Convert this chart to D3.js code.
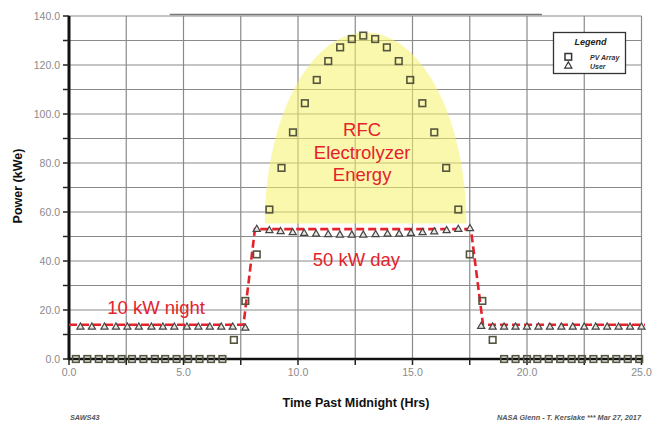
<!DOCTYPE html>
<html><head><meta charset="utf-8">
<script src="https://cdn.jsdelivr.net/npm/d3@7"></script>
<style>body{margin:0;background:#fff;}svg{display:block;font-family:"Liberation Sans",Arial,sans-serif;}</style>
</head><body>
<svg id="c" width="653" height="422"></svg>
<script>
// ---- data ----
const xTicks = [0, 5, 10, 15, 20, 25];
const yTicks = [0, 20, 40, 60, 80, 100, 120, 140];
const pvTime = [0.3,0.8,1.3,1.8,2.3,2.75,3.25,3.75,4.2,4.7,5.2,5.7,6.2,6.7,
  7.2,7.7,
  8.2,8.75,9.28,9.78,10.3,10.82,11.32,11.84,12.35,12.85,13.37,13.88,14.4,14.9,15.43,15.95,16.47,17.0,17.5,
  18.05,18.5,
  19.0,19.5,20.0,20.45,20.95,21.45,21.95,22.4,22.9,23.4,23.9,24.4,24.9];
const pvPower = [0,0,0,0,0,0,0,0,0,0,0,0,0,0,
  7.8,23.7,
  42.7,61.0,78.0,92.5,104.4,113.9,121.6,127.2,130.6,132.0,130.6,127.2,121.6,113.9,104.4,92.5,78.0,61.0,42.7,
  23.7,7.8,
  0,0,0,0,0,0,0,0,0,0,0,0,0];
const userTime = [0.5,1.0,1.55,2.05,2.55,3.05,3.6,4.1,4.6,5.15,5.65,6.15,6.65,7.15,7.7,
  8.2,8.75,9.24,9.77,10.27,10.79,11.32,11.83,12.35,12.85,13.39,13.91,14.42,14.93,15.44,15.95,16.49,17.0,17.51,
  18.0,18.5,19.0,19.5,20.0,20.5,21.0,21.5,22.0,22.5,23.0,23.5,24.0,24.5,25.0];
const userPower = [13,13,13,13,13,13,13,13,13,13,13,13,13,13,12.6,
  52.9,52.4,52.0,51.6,51.3,51.0,50.8,50.6,50.6,50.6,50.8,51.0,51.0,51.3,51.6,51.9,52.4,52.9,53.2,
  13.3,13,13,13,13,13,13,13,13,13,13,13,13,13,13];
const loadTime = [0, 7.62, 8.12, 17.55, 18.08, 25.15];
const loadPower = [14, 14, 53, 53, 14, 14];
// electrolyzer energy region (half ellipse): centre time, base power, half-width (hrs), height (kW)
const rfcCenter = [12.95, 55.3];
const rfcRadius = [4.4, 78];

// ---- layout ----
const svg = d3.select("#c");
const x = d3.scaleLinear().domain([0, 25]).range([69, 641.5]);
const y = d3.scaleLinear().domain([0, 140]).range([359, 16]);

// grid
const g = svg.append("g");
g.selectAll(".vg").data(d3.range(0, 25.01, 2.5)).enter().append("line")
  .attr("x1", d => x(d)).attr("x2", d => x(d)).attr("y1", y(0)).attr("y2", y(140))
  .attr("stroke", "#8a8a8a").attr("stroke-width", 1.2);
g.selectAll(".hg").data(d3.range(10, 140.01, 10)).enter().append("line")
  .attr("x1", x(0)).attr("x2", x(25)).attr("y1", d => y(d)).attr("y2", d => y(d))
  .attr("stroke", "#8a8a8a").attr("stroke-width", 1.2);
// darker top segment
g.append("line").attr("x1", x(4.4)).attr("x2", x(20.65)).attr("y1", y(140.6)).attr("y2", y(140.6))
  .attr("stroke", "#777").attr("stroke-width", 1.6);

// yellow region
const ell = d3.range(0, 181, 3).map(a => {
  const r = a * Math.PI / 180;
  return [rfcCenter[0] - rfcRadius[0] * Math.cos(r), rfcCenter[1] + rfcRadius[1] * Math.sin(r)];
});
svg.append("path")
  .attr("d", d3.line().x(d => x(d[0])).y(d => y(d[1]))(ell) + "Z")
  .attr("fill", "#f6f36a").attr("opacity", 0.55);

// axes
const ax = svg.append("g");
ax.append("line").attr("x1", x(0)).attr("x2", x(0)).attr("y1", y(140)).attr("y2", y(0) + 1)
  .attr("stroke", "#111").attr("stroke-width", 3);
ax.append("line").attr("x1", x(0) - 1).attr("x2", x(25) + 1).attr("y1", y(0)).attr("y2", y(0))
  .attr("stroke", "#111").attr("stroke-width", 2.6);
ax.selectAll(".yt").data(d3.range(0, 140.01, 10)).enter().append("line")
  .attr("x1", x(0) - 6).attr("x2", x(0)).attr("y1", d => y(d)).attr("y2", d => y(d))
  .attr("stroke", "#222").attr("stroke-width", 1.5);
ax.selectAll(".xt").data(d3.range(0, 25.01, 2.5)).enter().append("line")
  .attr("x1", d => x(d)).attr("x2", d => x(d)).attr("y1", y(0)).attr("y2", y(0) + 6)
  .attr("stroke", "#222").attr("stroke-width", 1.5);
ax.selectAll(".yl").data(yTicks).enter().append("text")
  .attr("x", x(0) - 9).attr("y", d => y(d)).attr("dy", "0.35em")
  .attr("text-anchor", "end").attr("font-size", 10.5).attr("fill", "#8a8a8a")
  .text(d => d.toFixed(1));
ax.selectAll(".xl").data(xTicks).enter().append("text")
  .attr("x", d => x(d)).attr("y", y(0) + 17)
  .attr("text-anchor", "middle").attr("font-size", 10.5).attr("fill", "#8a8a8a")
  .text(d => d.toFixed(1));

// axis titles
svg.append("text").attr("transform", "translate(22,186) rotate(-90)")
  .attr("text-anchor", "middle").attr("font-size", 12.5).attr("font-weight", "bold").attr("fill", "#111")
  .text("Power (kWe)");
svg.append("text").attr("x", 356).attr("y", 407)
  .attr("text-anchor", "middle").attr("font-size", 12.5).attr("font-weight", "bold").attr("fill", "#111")
  .text("Time Past Midnight (Hrs)");
svg.append("text").attr("x", 70).attr("y", 420).attr("font-size", 7.3).attr("font-style", "italic")
  .attr("font-weight", "bold").attr("fill", "#555").text("SAWS43");
svg.append("text").attr("x", 641).attr("y", 420).attr("text-anchor", "end").attr("font-size", 7.3)
  .attr("font-style", "italic").attr("font-weight", "bold").attr("fill", "#555")
  .text("NASA Glenn - T. Kerslake *** Mar 27, 2017");

// load line
svg.append("path")
  .attr("d", d3.line().x((d, i) => x(loadTime[i])).y(d => y(d))(loadPower))
  .attr("fill", "none").attr("stroke", "#e4222c").attr("stroke-width", 2.6)
  .attr("stroke-dasharray", "8,4");

// PV squares
svg.selectAll(".pv").data(pvPower).enter().append("rect")
  .attr("x", (d, i) => x(pvTime[i]) - 3.3).attr("y", d => y(d) - 3.3)
  .attr("width", 6.6).attr("height", 6.6)
  .attr("fill", "none").attr("stroke", "#55553f").attr("stroke-width", 1.6);

// user triangles
const tri = d3.symbol().type(d3.symbolTriangle).size(22);
svg.selectAll(".us").data(userPower).enter().append("path")
  .attr("transform", (d, i) => `translate(${x(userTime[i])},${y(d)})`)
  .attr("d", tri).attr("fill", "#e8e8e0").attr("stroke", "#444").attr("stroke-width", 1.2);

// annotations
const red = "#e4222c";
const ann = [["RFC", 12.8, 93.5], ["Electrolyzer", 12.8, 84.3], ["Energy", 12.8, 75.2],
             ["50 kW day", 12.55, 40.5], ["10 kW night", 3.8, 21.0]];
svg.selectAll(".ann").data(ann).enter().append("text")
  .attr("x", d => x(d[1])).attr("y", d => y(d[2])).attr("dy", "0.35em")
  .attr("text-anchor", "middle").attr("font-size", 18.5).attr("fill", red)
  .text(d => d[0]);

// legend
const lg = svg.append("g");
lg.append("rect").attr("x", 553.5).attr("y", 32.5).attr("width", 72).attr("height", 41)
  .attr("fill", "#fff").attr("stroke", "#333").attr("stroke-width", 1.3);
lg.append("text").attr("x", 590.5).attr("y", 44.5).attr("text-anchor", "middle").attr("font-size", 9)
  .attr("font-weight", "bold").attr("font-style", "italic").attr("fill", "#222").text("Legend");
lg.append("rect").attr("x", 565).attr("y", 53.5).attr("width", 6.6).attr("height", 6.6)
  .attr("fill", "none").attr("stroke", "#333").attr("stroke-width", 1.5);
lg.append("path").attr("transform", "translate(568.3,66)").attr("d", tri)
  .attr("fill", "#fff").attr("stroke", "#333").attr("stroke-width", 1.2);
lg.append("text").attr("x", 590).attr("y", 60).attr("font-size", 7).attr("font-weight", "bold")
  .attr("font-style", "italic").attr("fill", "#333").text("PV Array");
lg.append("text").attr("x", 590).attr("y", 68.5).attr("font-size", 7).attr("font-weight", "bold")
  .attr("font-style", "italic").attr("fill", "#333").text("User");
</script>
</body></html>
